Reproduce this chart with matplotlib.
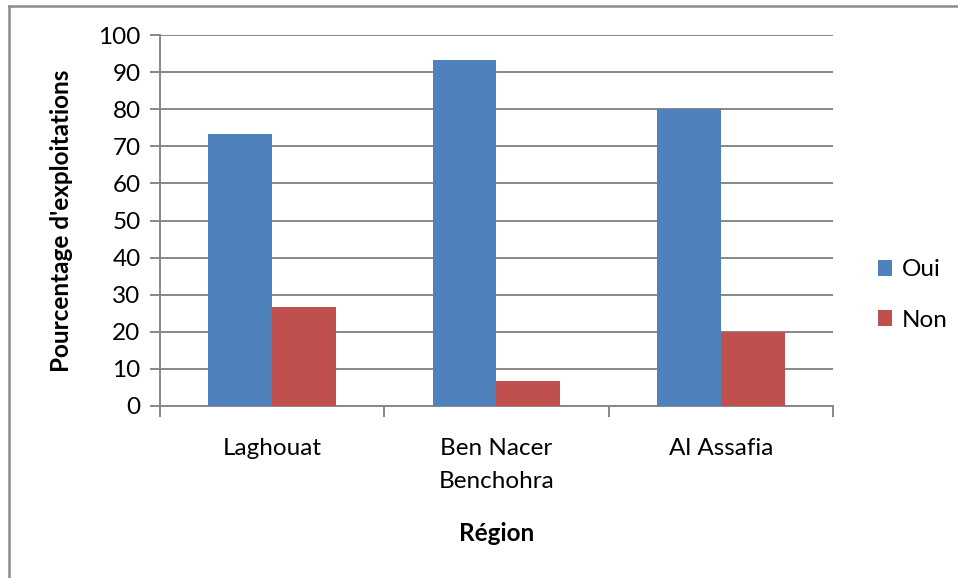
import matplotlib.pyplot as plt
import numpy as np
from matplotlib.lines import Line2D

plt.rcParams['font.family'] = ['Lato', 'DejaVu Sans']

regions = ["Laghouat", "Ben Nacer\nBenchohra", "Al Assafia"]
oui = [73.3, 93.3, 80.0]
non = [26.7, 6.7, 20.0]
series = ["Oui", "Non"]
colors = ["#4F81BD", "#C0504D"]

fs = 17.5

fig = plt.figure(figsize=(9.58, 5.78), dpi=100)
ax = fig.add_axes([160/958, 1 - 406/578, (833 - 160)/958, (406 - 35)/578])

x = np.arange(len(regions))
w = 0.285
ax.bar(x - w/2, oui, w, color=colors[0], label=series[0], zorder=3)
ax.bar(x + w/2, non, w, color=colors[1], label=series[1], zorder=3)

grid_col = "#878787"
ax.set_xlim(-0.5, len(regions) - 0.5)
ax.set_ylim(0, 100)
ax.set_yticks(np.arange(0, 101, 10))
ax.yaxis.grid(True, color=grid_col, linewidth=1.4, zorder=0)

ax.set_xticks(x)
ax.set_xticklabels(regions, fontsize=fs, linespacing=1.7)
ax.set_xticks(np.arange(-0.5, len(regions)), minor=True)
ax.tick_params(axis='x', which='major', length=0, pad=23)
ax.tick_params(axis='x', which='minor', length=8, width=1.4, color=grid_col, direction='out')
ax.tick_params(axis='y', length=7, width=1.4, color=grid_col, labelsize=fs, pad=7)

for s in ["top", "right"]:
    ax.spines[s].set_visible(False)
for s in ["left", "bottom"]:
    ax.spines[s].set_color(grid_col)
    ax.spines[s].set_linewidth(1.4)

ax.set_ylabel("Pourcentage d'exploitations", fontsize=fs, fontweight='bold', labelpad=18)
ax.set_xlabel("Région", fontsize=fs, fontweight='bold', labelpad=22)

ax.legend(loc='center left', bbox_to_anchor=(856/958, 1 - 295/578),
          bbox_transform=fig.transFigure, frameon=False, fontsize=fs,
          handlelength=0.6, handleheight=0.6, handletextpad=0.4, labelspacing=1.2)

# chart border (only top and left visible in the reference)
fig.add_artist(Line2D([9/958, 9/958], [0, 1 - 6/578], color="#8C8C8C", linewidth=1.8,
                      transform=fig.transFigure))
fig.add_artist(Line2D([9/958, 1], [1 - 6/578, 1 - 6/578], color="#8C8C8C", linewidth=1.8,
                      transform=fig.transFigure))

fig.savefig("out.png", dpi=100)
